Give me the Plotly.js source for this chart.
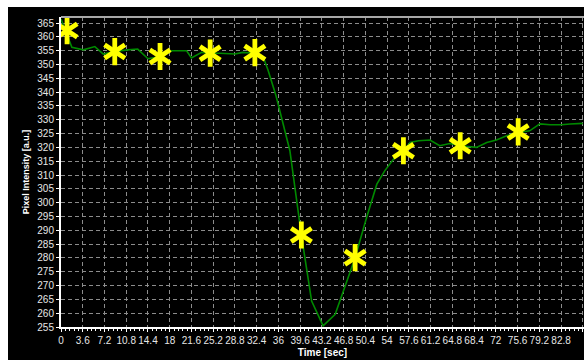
<!DOCTYPE html>
<html>
<head>
<meta charset="utf-8">
<script src="https://cdn.plot.ly/plotly-3.0.1.min.js"></script>
<style>
html,body{margin:0;padding:0;background:#ffffff;width:584px;height:360px;overflow:hidden;}
#chart{position:absolute;left:8px;top:7px;width:576px;height:353px;}
</style>
</head>
<body>
<div id="chart"></div>
<script>
// Green intensity curve (time in sec, pixel intensity in a.u.)
var timeSec = [0, 1.8, 3.7, 5.6, 7.0, 8.9, 11.1, 12.7, 14.4, 16.4, 18.3, 20.8, 21.6, 23.3, 24.7, 26.3, 28.8, 30.1, 32.1, 33.5, 34.3, 35.6, 37.9, 39.8, 41.5, 43.4, 45.4, 48.7, 50.6, 52.3, 53.6, 55.3, 56.7, 57.8, 59.2, 61.1, 62.7, 64.4, 66.1, 68.8, 70.5, 72.1, 73.8, 75.7, 77.6, 79.3, 81.0, 82.9, 84.3, 86.4];
var intensity = [366.5, 356.2, 355.3, 356.5, 353.8, 354.7, 355.3, 355.6, 352.1, 352.9, 355.0, 355.0, 352.4, 354.4, 354.1, 354.1, 353.8, 354.4, 354.1, 352.6, 347.8, 338.7, 318.8, 288.3, 264.4, 255.4, 259.6, 280.1, 294.6, 306.7, 311.5, 316.4, 318.8, 321.8, 322.4, 322.7, 320.6, 321.4, 320.6, 320.0, 321.8, 322.7, 324.2, 325.4, 326.0, 328.5, 328.2, 328.2, 328.5, 328.7];

// Yellow asterisk markers
var markTime = [1.0, 8.9, 16.4, 24.7, 32.1, 39.8, 48.7, 56.7, 66.1, 75.7];
var markValue = [362.3, 354.7, 352.9, 354.1, 354.3, 288.3, 280.1, 318.8, 320.6, 325.6];

var xTitle = 'Time [sec]';
var yTitle = 'Pixel Intensity [a.u.]';

var fontFam = '"Liberation Sans", Arial, sans-serif';

var traces = [
  {x: timeSec, y: intensity, type: 'scatter', mode: 'lines',
   line: {color: '#008a00', width: 1.6}, hoverinfo: 'skip'},
  {x: markTime, y: markValue, type: 'scatter', mode: 'markers',
   marker: {symbol: 'y-up-open', size: 17, color: '#ffff00', line: {color: '#ffff00', width: 4.8}}},
  {x: markTime, y: markValue, type: 'scatter', mode: 'markers',
   marker: {symbol: 'y-down-open', size: 17, color: '#ffff00', line: {color: '#ffff00', width: 4.8}}}
];

var layout = {
  width: 576, height: 353,
  margin: {l: 53, r: 0, t: 10, b: 33, pad: 0},
  paper_bgcolor: '#000000', plot_bgcolor: '#000000',
  showlegend: false,
  font: {family: fontFam, size: 10, color: '#e6e6e6'},
  xaxis: {
    range: [0, 86.6], tickmode: 'linear', tick0: 0, dtick: 3.6, tickangle: 0,
    showgrid: true, gridcolor: '#8c8c8c', griddash: '4px,3px', gridwidth: 1,
    zeroline: false, showline: true, linecolor: '#ffffff', linewidth: 2,
    ticks: 'outside', ticklen: 3, tickcolor: '#ffffff', tickwidth: 1,
    minor: {dtick: 0.72, ticks: 'outside', ticklen: 2, tickcolor: '#ffffff', showgrid: false},
    tickfont: {size: 10, color: '#e6e6e6'},
    title: {text: '<b>' + xTitle + '</b>', font: {size: 10, color: '#ffffff'}, standoff: 4},
    automargin: false, fixedrange: true
  },
  yaxis: {
    range: [255, 367.2], tickmode: 'linear', tick0: 255, dtick: 5,
    showgrid: true, gridcolor: '#8c8c8c', griddash: '4px,3px', gridwidth: 1,
    zeroline: false, showline: true, linecolor: '#ffffff', linewidth: 2,
    ticks: 'outside', ticklen: 3, tickcolor: '#ffffff', tickwidth: 1,
    tickfont: {size: 10, color: '#e6e6e6'},
    title: {text: '<b>' + yTitle + '</b>', font: {size: 9, color: '#ffffff'}, standoff: 6},
    automargin: false, fixedrange: true
  },
  shapes: [
    {type: 'line', xref: 'paper', yref: 'paper', x0: 0, x1: 1, y0: 1, y1: 1,
     line: {color: '#a8a8a8', width: 2}}
  ]
};

Plotly.newPlot('chart', traces, layout, {staticPlot: true, displayModeBar: false});
</script>
</body>
</html>
